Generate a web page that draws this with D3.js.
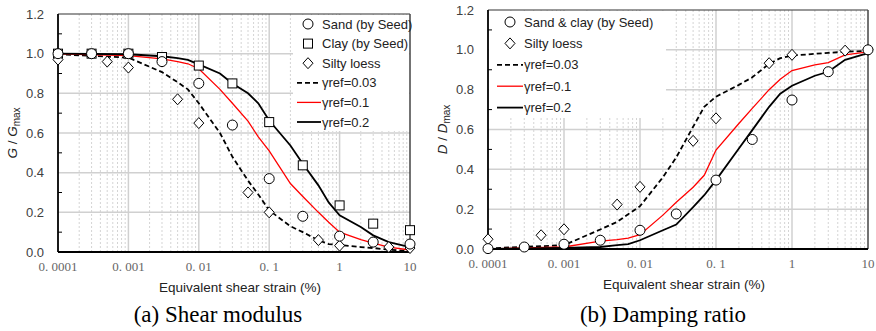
<html>
<head>
<meta charset="utf-8">
<script src="https://cdn.jsdelivr.net/npm/d3@7"></script>
<style>
  body { margin: 0; background: white; }
  text { font-family: Arial, "Liberation Sans", sans-serif; }
</style>
</head>
<body>
<svg id="chart" width="876" height="331"></svg>
<script>
var curveStrain = [0.0001, 0.001, 0.003, 0.005, 0.007, 0.01, 0.02, 0.03, 0.05, 0.07, 0.1, 0.2, 0.3, 0.5, 0.7, 1, 2, 3, 5, 10];

// (a) shear modulus
var gRef003 = [0.997, 0.98, 0.907, 0.856, 0.82, 0.75, 0.6, 0.48, 0.36, 0.29, 0.21, 0.13, 0.10, 0.059, 0.04, 0.035, 0.025, 0.02, 0.012, 0.005];
var gRef01  = [0.999, 0.99, 0.974, 0.96, 0.949, 0.924, 0.82, 0.75, 0.66, 0.58, 0.51, 0.345, 0.28, 0.20, 0.15, 0.10, 0.062, 0.045, 0.025, 0.01];
var gRef02  = [1.0, 0.997, 0.987, 0.978, 0.969, 0.946, 0.90, 0.85, 0.80, 0.75, 0.663, 0.537, 0.445, 0.336, 0.25, 0.185, 0.126, 0.084, 0.05, 0.025];

var seedStrain  = [0.0001, 0.0003, 0.001, 0.003, 0.01, 0.03, 0.1, 0.3, 1, 3, 10];
var sandG       = [1.0, 1.0, 1.0, 0.96, 0.85, 0.64, 0.37, 0.18, 0.08, 0.05, 0.04];
var clayG       = [1.0, 1.0, 1.0, 0.983, 0.94, 0.85, 0.655, 0.437, 0.235, 0.143, 0.11];
var loessStrain = [0.0001, 0.0005, 0.001, 0.005, 0.01, 0.05, 0.1, 0.5, 1, 5, 10];
var loessG      = [0.97, 0.96, 0.93, 0.77, 0.65, 0.30, 0.20, 0.06, 0.032, 0.025, 0.02];

// (b) damping ratio
var dRef003 = [0.003, 0.019, 0.098, 0.136, 0.175, 0.215, 0.36, 0.46, 0.614, 0.714, 0.765, 0.824, 0.862, 0.93, 0.958, 0.971, 0.98, 0.985, 0.99, 0.995];
var dRef01  = [0.001, 0.01, 0.04, 0.047, 0.055, 0.072, 0.17, 0.235, 0.31, 0.37, 0.497, 0.63, 0.706, 0.80, 0.852, 0.896, 0.925, 0.936, 0.975, 0.99];
var dRef02  = [0.0, 0.005, 0.01, 0.019, 0.024, 0.044, 0.094, 0.123, 0.21, 0.27, 0.346, 0.505, 0.597, 0.714, 0.78, 0.82, 0.87, 0.89, 0.95, 0.983];
var sandClayD = [0.002, 0.01, 0.024, 0.044, 0.094, 0.176, 0.346, 0.55, 0.748, 0.89, 1.0];
var loessD    = [0.049, 0.069, 0.099, 0.223, 0.312, 0.543, 0.656, 0.933, 0.975, 0.996, 1.0];

var xTicks = [0.0001, 0.001, 0.01, 0.1, 1, 10];
var xTickLabels = ["0. 0001", "0. 001", "0. 01", "0. 1", "1", "10"];
var yTicks = [0, 0.2, 0.4, 0.6, 0.8, 1.0, 1.2];

var svg = d3.select("#chart");

function zip(xs, ys) { return xs.map(function(v, i) { return [v, ys[i]]; }); }

function drawPanel(p) {
  var g = svg.append("g");
  var x = d3.scaleLog().domain([0.0001, 10]).range([p.left, p.right]);
  var y = d3.scaleLinear().domain([0, 1.2]).range([p.bottom, p.top]);

  // minor vertical grid (2..9 in each decade)
  var minor = [];
  for (var e = -4; e < 1; e++) for (var k = 2; k < 10; k++) minor.push(k * Math.pow(10, e));
  g.selectAll(".minor").data(minor).enter().append("line")
    .attr("x1", d => x(d)).attr("x2", d => x(d))
    .attr("y1", p.top).attr("y2", p.bottom)
    .attr("stroke", "#d4d4d4").attr("stroke-width", 1).attr("stroke-dasharray", "2,2");
  // major grid
  g.selectAll(".vmaj").data(xTicks.slice(1, -1)).enter().append("line")
    .attr("x1", d => x(d)).attr("x2", d => x(d))
    .attr("y1", p.top).attr("y2", p.bottom)
    .attr("stroke", "#d0d0d0").attr("stroke-width", 1.5);
  g.selectAll(".hmaj").data(yTicks.slice(1, -1)).enter().append("line")
    .attr("x1", p.left).attr("x2", p.right)
    .attr("y1", d => y(d)).attr("y2", d => y(d))
    .attr("stroke", "#d0d0d0").attr("stroke-width", 1.5);

  // legend background
  g.append("rect").attr("x", p.legend.x).attr("y", p.legend.y)
    .attr("width", p.legend.w).attr("height", p.legend.h).attr("fill", "white");

  // frame
  g.append("line").attr("x1", p.left).attr("x2", p.right).attr("y1", p.top).attr("y2", p.top)
    .attr("stroke", "#333").attr("stroke-width", 1.2);
  g.append("line").attr("x1", p.right).attr("x2", p.right).attr("y1", p.top).attr("y2", p.bottom)
    .attr("stroke", "#444").attr("stroke-width", 1.5);

  // curves
  var line = d3.line().x(d => x(d[0])).y(d => y(d[1]));
  p.curves.forEach(function(c) {
    g.append("path").datum(zip(curveStrain, c.values))
      .attr("d", line).attr("fill", "none")
      .attr("stroke", c.color).attr("stroke-width", c.width)
      .attr("stroke-dasharray", c.dash || null);
  });

  // axes
  g.append("line").attr("x1", p.left).attr("x2", p.left).attr("y1", p.top).attr("y2", p.bottom)
    .attr("stroke", "black").attr("stroke-width", 1.8);
  g.append("line").attr("x1", p.left).attr("x2", p.right).attr("y1", p.bottom).attr("y2", p.bottom)
    .attr("stroke", "black").attr("stroke-width", 1.8);
  g.selectAll(".ymin").data([0.1, 0.3, 0.5, 0.7, 0.9, 1.1]).enter().append("line")
    .attr("x1", p.left).attr("x2", p.left + 4)
    .attr("y1", d => y(d)).attr("y2", d => y(d))
    .attr("stroke", "black").attr("stroke-width", 1);

  g.selectAll(".ylab").data(yTicks).enter().append("text")
    .attr("x", p.left - 14).attr("y", d => y(d)).attr("dy", "0.35em")
    .attr("text-anchor", "end").attr("font-size", 13).attr("fill", "#404040")
    .text(d => d.toFixed(1));
  g.selectAll(".xlab").data(xTicks).enter().append("text")
    .attr("x", d => x(d)).attr("y", p.bottom + 19)
    .attr("text-anchor", "middle").attr("font-size", 13).attr("fill", "#666")
    .style("font-family", "'Liberation Serif', 'DejaVu Serif', serif")
    .text((d, i) => xTickLabels[i]);

  g.append("text").attr("x", (p.left + p.right) / 2 + 6).attr("y", p.bottom + 40)
    .attr("text-anchor", "middle").attr("font-size", 13.5).attr("fill", "#222")
    .text("Equivalent shear strain (%)");

  var yl = g.append("text")
    .attr("transform", "translate(" + p.ylabX + "," + ((p.top + p.bottom) / 2) + ") rotate(-90)")
    .attr("text-anchor", "middle").attr("font-size", 13.5).attr("fill", "#222");
  yl.append("tspan").attr("font-style", "italic").text(p.sym);
  yl.append("tspan").text(" / ");
  yl.append("tspan").attr("font-style", "italic").text(p.sym);
  yl.append("tspan").attr("font-size", 10).attr("dy", 3).text("max");

  g.append("text").attr("x", p.captionX).attr("y", 322)
    .attr("text-anchor", "middle").attr("font-size", 23)
    .style("font-family", "'Liberation Serif', 'Times New Roman', serif")
    .text(p.caption);

  // markers
  p.points.forEach(function(s) {
    drawMarkers(g, zip(s.xs, s.ys).map(d => [x(d[0]), y(d[1])]), s.shape);
  });

  // legend entries
  p.legendItems.forEach(function(it, i) {
    var yy = p.legend.row0 + i * p.legend.step;
    if (it.shape) {
      drawMarkers(g, [[p.legend.mx, yy]], it.shape);
    } else {
      g.append("line").attr("x1", p.legend.lx0).attr("x2", p.legend.lx1)
        .attr("y1", yy).attr("y2", yy)
        .attr("stroke", it.color).attr("stroke-width", it.width)
        .attr("stroke-dasharray", it.dash || null);
    }
    g.append("text").attr("x", p.legend.tx).attr("y", yy).attr("dy", "0.35em")
      .attr("font-size", 13).attr("fill", "#222").text(it.label);
  });
}

function drawMarkers(g, pts, shape) {
  pts.forEach(function(pt) {
    var m;
    if (shape === "circle") {
      m = g.append("circle").attr("cx", pt[0]).attr("cy", pt[1]).attr("r", 5);
    } else if (shape === "square") {
      m = g.append("rect").attr("x", pt[0] - 4.5).attr("y", pt[1] - 4.5).attr("width", 9).attr("height", 9);
    } else {
      m = g.append("path").attr("d", "M" + pt[0] + "," + (pt[1] - 5.5) + "l5,5.5l-5,5.5l-5,-5.5z");
    }
    m.attr("fill", "white").attr("stroke", "black").attr("stroke-width", 1);
  });
}

drawPanel({
  left: 58, right: 410, top: 14, bottom: 252, ylabX: 17, sym: "G",
  caption: "(a) Shear modulus", captionX: 218,
  curves: [
    { values: gRef003, color: "black", width: 1.8, dash: "5,3" },
    { values: gRef01, color: "#ff0000", width: 1.3 },
    { values: gRef02, color: "black", width: 1.8 }
  ],
  points: [
    { xs: seedStrain, ys: clayG, shape: "square" },
    { xs: loessStrain, ys: loessG, shape: "diamond" },
    { xs: seedStrain, ys: sandG, shape: "circle" }
  ],
  legend: { x: 293, y: 15, w: 116, h: 116, row0: 24, step: 19.6, mx: 308, lx0: 297, lx1: 321, tx: 322 },
  legendItems: [
    { shape: "circle", label: "Sand (by Seed)" },
    { shape: "square", label: "Clay (by Seed)" },
    { shape: "diamond", label: "Silty loess" },
    { color: "black", width: 1.8, dash: "5,3", label: "γref=0.03" },
    { color: "#ff0000", width: 1.3, label: "γref=0.1" },
    { color: "black", width: 1.8, label: "γref=0.2" }
  ]
});

drawPanel({
  left: 488, right: 868, top: 10, bottom: 249, ylabX: 447, sym: "D",
  caption: "(b) Damping ratio", captionX: 663,
  curves: [
    { values: dRef003, color: "black", width: 1.8, dash: "5,3" },
    { values: dRef01, color: "#ff0000", width: 1.3 },
    { values: dRef02, color: "black", width: 1.8 }
  ],
  points: [
    { xs: loessStrain, ys: loessD, shape: "diamond" },
    { xs: seedStrain, ys: sandClayD, shape: "circle" }
  ],
  legend: { x: 489, y: 11, w: 177, h: 107, row0: 22, step: 21.4, mx: 510, lx0: 497, lx1: 523, tx: 524 },
  legendItems: [
    { shape: "circle", label: "Sand & clay (by Seed)" },
    { shape: "diamond", label: "Silty loess" },
    { color: "black", width: 1.8, dash: "5,3", label: "γref=0.03" },
    { color: "#ff0000", width: 1.3, label: "γref=0.1" },
    { color: "black", width: 1.8, label: "γref=0.2" }
  ]
});
</script>
</body>
</html>
